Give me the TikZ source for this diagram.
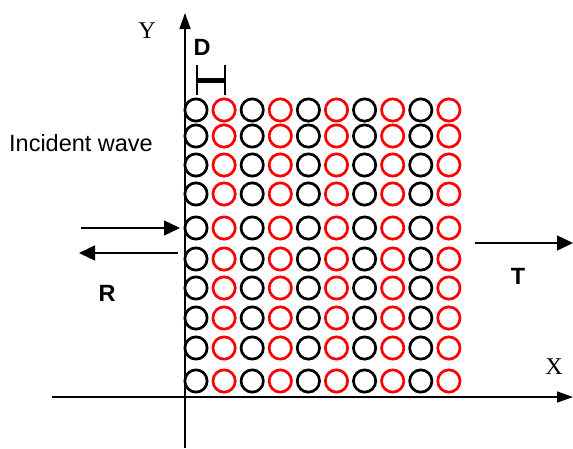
\documentclass[tikz,border=0pt]{standalone}
\usepackage{fontspec}
\setmainfont{Liberation Serif}
\newfontfamily\arialfont{Liberation Sans}
\usepackage{tikz}
\usetikzlibrary{arrows,arrows.meta,shapes}
\tikzstyle{ring}=[circle,draw,line width=2.7pt,minimum size=22.3pt,inner sep=0pt]
\tikzstyle{axis}=[draw,line width=1.4pt,-{Triangle[length=16pt,width=11pt]}]
\tikzstyle{wave}=[draw,line width=1.4pt,-{Triangle[length=16pt,width=15pt]}]
\tikzstyle{lbl}=[font=\arialfont\fontsize{23.5}{28}\selectfont,inner sep=0pt]
\tikzstyle{blbl}=[font=\arialfont\bfseries\fontsize{23.5}{28}\selectfont,inner sep=0pt]
\tikzstyle{axlbl}=[font=\fontsize{24}{28}\selectfont,inner sep=0pt]

\begin{document}
\begin{tikzpicture}[x=1pt,y=-1pt]
        \useasboundingbox (0,0) rectangle (573,448);
        % axes
        \coordinate (ybot) at (185,448);
        \coordinate (ytop) at (185,13);
        \coordinate (xleft) at (52,397);
        \coordinate (xright) at (573,397);
        \draw[axis] (ybot) to (ytop);
        \draw[axis] (xleft) to (xright);
        \node[axlbl] (Y) at (147,31) {Y};
        \node[axlbl] (X) at (554,367) {X};
        % rods
        \foreach \y [count=\r] in {110,136,165,194,228,259,288,318,348,381} {
          \foreach \c in {0,...,9} {
            \pgfmathsetmacro{\x}{196+28.1*\c}
            \ifodd\c
              \node[ring,red] (r\r c\c) at (\x,\y) {};
            \else
              \node[ring,black] (r\r c\c) at (\x,\y) {};
            \fi
          }
        }
        % period D
        \coordinate (dl) at (197,80);
        \coordinate (dr) at (225,80);
        \draw[line width=1.4pt] (197,65) -- (197,95);
        \draw[line width=1.4pt] (225,65) -- (225,95);
        \draw[line width=5pt] (dl) -- (dr);
        \node[blbl] (D) at (202,47) {D};
        % waves
        \node[lbl] (inc) at (81,143) {Incident wave};
        \coordinate (inca) at (81,228);
        \coordinate (incb) at (180,228);
        \coordinate (refa) at (178,253);
        \coordinate (refb) at (79,253);
        \coordinate (tra) at (475,243);
        \coordinate (trb) at (573,243);
        \draw[wave] (inca) to (incb);
        \draw[wave] (refa) to (refb);
        \draw[wave] (tra) to (trb);
        \node[blbl] (R) at (107,293) {R};
        \node[blbl] (T) at (518,276) {T};
      \end{tikzpicture}
\end{document}
